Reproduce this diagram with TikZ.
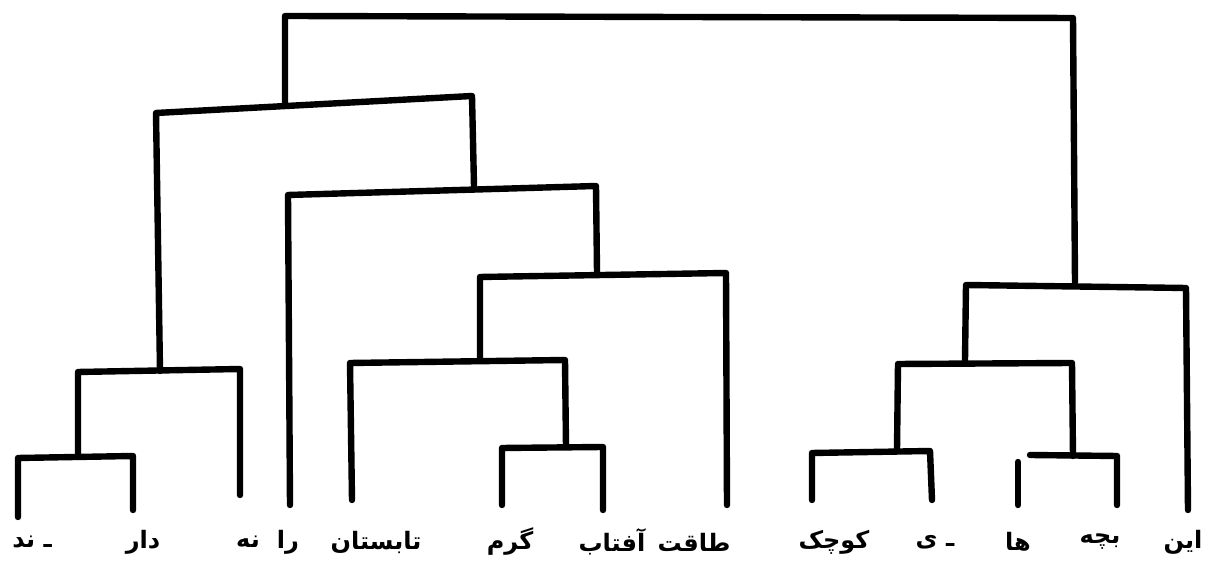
\documentclass[tikz,border=0pt]{standalone}
\usepackage{fontspec}
\newfontfamily\arabicfont[Script=Arabic]{DejaVu Sans}
\TeXXeTstate=1
\begin{document}
\begin{tikzpicture}[x=0.5pt,y=-0.5pt,
  br/.style={line width=3.2pt,line join=round,line cap=round},
  lab/.style={inner sep=0pt,font=\arabicfont\bfseries\fontsize{12}{14}\selectfont}]
\useasboundingbox (0,0) rectangle (1206,565);
% leaves (bottom ends of leaf lines)
\coordinate (L1) at (18,517);
\coordinate (L2) at (133,510);
\coordinate (L3) at (240,495);
\coordinate (L4) at (290,505);
\coordinate (L5) at (352,500);
\coordinate (L6) at (502,505);
\coordinate (L7) at (603,510);
\coordinate (L8) at (727,505);
\coordinate (L9) at (812,500);
\coordinate (L10) at (932,500);
\coordinate (L11) at (1018,505);
\coordinate (L12) at (1117,505);
\coordinate (L13) at (1188,510);
% left subtree
\draw[br] (L1) -- (18,458) -- (133,456) -- (L2);
\draw[br] (78,457) -- (78,372) -- (240,369) -- (L3);
\draw[br] (160,371) -- (156,113) -- (472,96) -- (474,186);
\draw[br] (285,103) -- (285,16) -- (1073,18) -- (1075,282);
\draw[br] (L4) -- (288,195) -- (596,186) -- (597,272);
\draw[br] (L8) -- (726,273) -- (480,277) -- (480,360);
\draw[br] (L5) -- (350,363) -- (565,360) -- (566,447);
\draw[br] (L6) -- (502,448) -- (603,447) -- (L7);
% right subtree
\draw[br] (965,360) -- (966,285) -- (1186,288) -- (L13);
\draw[br] (897,450) -- (898,364) -- (1072,363) -- (1073,456);
\draw[br] (L9) -- (812,453) -- (930,451) -- (L10);
\draw[br] (L11) -- (1018,462);
\draw[br] (1030,455) -- (1117,456) -- (L12);
% labels
\node[lab] (t1) at (32,542) {\beginR ـ ند\endR};
\node[lab] (t2) at (143,542) {\beginR دار\endR};
\node[lab] (t3) at (248,542) {\beginR نه\endR};
\node[lab] (t4) at (288,542) {\beginR را\endR};
\node[lab] (t5) at (376,542) {\beginR تابستان\endR};
\node[lab] (t6) at (510,542) {\beginR گرم\endR};
\node[lab] (t7) at (612,542) {\beginR آفتاب\endR};
\node[lab] (t8) at (694,542) {\beginR طاقت\endR};
\node[lab] (t9) at (834,542) {\beginR کوچک\endR};
\node[lab] (t10) at (935,542) {\beginR ـ ی\endR};
\node[lab] (t11) at (1018,542) {\beginR ها\endR};
\node[lab] (t12) at (1100,542) {\beginR بچه\endR};
\node[lab] (t13) at (1183,542) {\beginR این\endR};
\end{tikzpicture}
\end{document}
